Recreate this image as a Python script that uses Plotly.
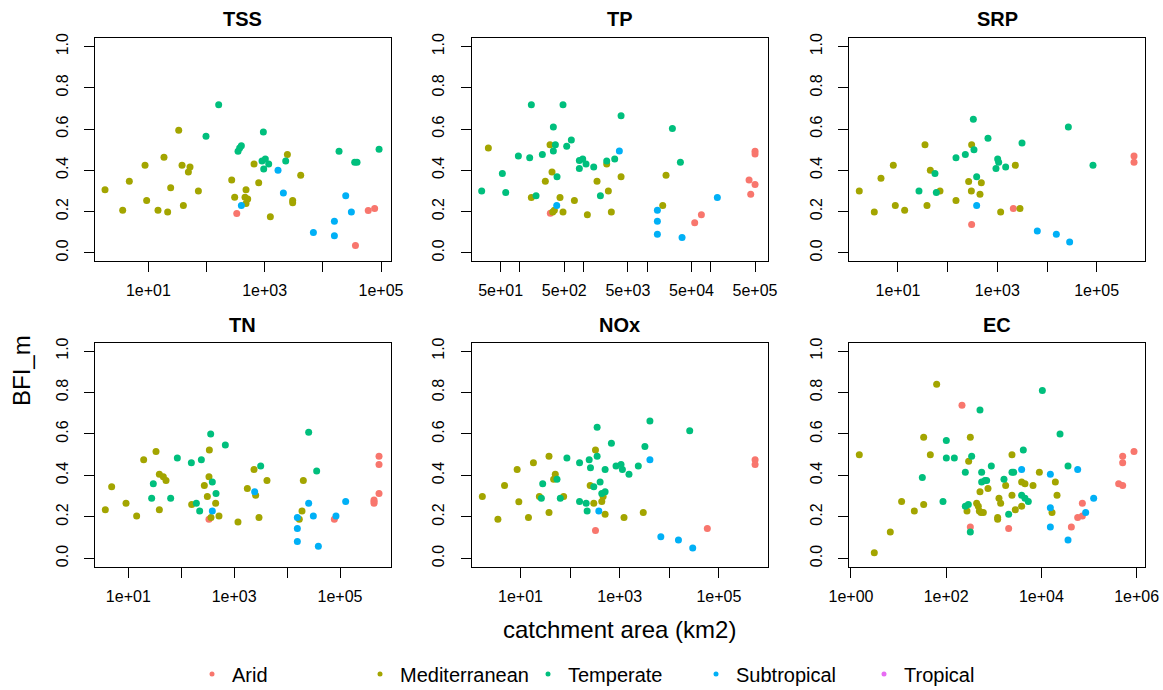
import numpy as np
import plotly.graph_objects as go

# ---------------- data (log10 catchment area km2, BFI_m) ----------------
climates = ["Arid", "Mediterranean", "Temperate", "Subtropical", "Tropical"]
colors = ["#F8766D", "#A3A500", "#00BF7D", "#00B0F6", "#E76BF3"]

# TSS
tss_arid_x = [2.52, 4.56, 4.78, 4.89]
tss_arid_y = [0.19, 0.035, 0.205, 0.215]
tss_med_x = [0.255, 0.559, 0.673, 0.943, 0.971, 1.166, 1.269, 1.332, 1.384, 1.522, 1.579, 1.602, 1.688, 1.716,
             1.860, 2.433, 2.484, 2.662, 2.679, 2.679, 2.708, 2.817, 2.897, 3.097, 3.390, 3.481, 3.481, 3.619]
tss_med_y = [0.306, 0.206, 0.347, 0.424, 0.253, 0.206, 0.463, 0.198, 0.315, 0.594, 0.424, 0.229, 0.392, 0.416,
             0.300, 0.353, 0.269, 0.269, 0.306, 0.239, 0.261, 0.431, 0.339, 0.174, 0.477, 0.253, 0.242, 0.376]
tss_temp_x = [1.991, 2.209, 2.542, 2.570, 2.599, 2.954, 2.977, 2.983, 3.011, 3.069, 3.361, 4.278, 4.547, 4.587, 4.966]
tss_temp_y = [0.565, 0.718, 0.492, 0.508, 0.519, 0.445, 0.585, 0.406, 0.455, 0.431, 0.445, 0.492, 0.439, 0.439, 0.502]
tss_sub_x = [2.599, 3.229, 3.321, 3.837, 4.198, 4.198, 4.393, 4.490]
tss_sub_y = [0.229, 0.400, 0.290, 0.098, 0.153, 0.082, 0.276, 0.198]

# TP
tp_arid_x = [2.480, 4.750, 4.855, 5.605, 5.631, 5.699, 5.699, 5.699]
tp_arid_y = [0.192, 0.145, 0.184, 0.353, 0.284, 0.331, 0.492, 0.479]
tp_med_x = [1.505, 2.181, 2.401, 2.475, 2.506, 2.517, 2.543, 2.632, 2.679, 2.858, 3.062, 3.214, 3.366, 3.392,
            3.439, 3.592, 4.247, 4.299]
tp_med_y = [0.508, 0.268, 0.347, 0.524, 0.392, 0.198, 0.206, 0.268, 0.198, 0.253, 0.184, 0.347, 0.431, 0.300,
            0.198, 0.369, 0.229, 0.376]
tp_temp_x = [1.400, 1.725, 1.778, 1.977, 2.155, 2.181, 2.255, 2.354, 2.527, 2.527, 2.559, 2.585, 2.679, 2.737,
             2.810, 2.936, 2.936, 2.989, 3.041, 3.162, 3.267, 3.366, 3.492, 3.592, 4.399, 4.525]
tp_temp_y = [0.300, 0.384, 0.292, 0.469, 0.461, 0.718, 0.276, 0.477, 0.610, 0.494, 0.524, 0.369, 0.718, 0.516,
             0.547, 0.447, 0.408, 0.455, 0.431, 0.416, 0.276, 0.445, 0.455, 0.665, 0.602, 0.439]
tp_sub_x = [2.580, 3.565, 4.163, 4.163, 4.163, 4.551, 5.106]
tp_sub_y = [0.229, 0.494, 0.206, 0.153, 0.090, 0.074, 0.268]

# SRP
srp_arid_x = [2.483, 3.322, 5.752, 5.752]
srp_arid_y = [0.137, 0.215, 0.469, 0.439]
srp_med_x = [0.221, 0.523, 0.658, 0.906, 0.946, 1.134, 1.544, 1.584, 1.651, 1.846, 2.168, 2.423, 2.483, 2.477,
             2.651, 2.678, 3.067, 3.362, 3.456]
srp_med_y = [0.300, 0.198, 0.361, 0.424, 0.229, 0.206, 0.524, 0.229, 0.400, 0.300, 0.253, 0.345, 0.524, 0.300,
             0.284, 0.339, 0.198, 0.424, 0.215]
srp_temp_x = [1.423, 1.745, 1.772, 2.168, 2.356, 2.517, 2.530, 2.584, 2.812, 2.973, 3.007, 3.027, 3.168, 3.497,
              4.430, 4.926]
srp_temp_y = [0.300, 0.384, 0.292, 0.461, 0.477, 0.648, 0.500, 0.369, 0.555, 0.408, 0.455, 0.439, 0.416, 0.532,
              0.610, 0.424]
srp_sub_x = [2.584, 3.805, 4.188, 4.456]
srp_sub_y = [0.229, 0.106, 0.090, 0.052]

# TN
tn_arid_x = [2.524, 4.893, 5.643, 5.643, 5.643, 5.737, 5.737, 5.737]
tn_arid_y = [0.189, 0.189, 0.274, 0.282, 0.266, 0.313, 0.453, 0.492]
tn_med_x = [0.565, 0.685, 0.956, 1.157, 1.290, 1.523, 1.586, 1.586, 1.661, 1.712, 2.197, 2.436, 2.493, 2.531,
            2.524, 2.562, 2.650, 2.713, 3.072, 3.249, 3.375, 3.406, 3.469, 3.620, 4.231, 4.307, 4.282]
tn_med_y = [0.235, 0.345, 0.266, 0.205, 0.476, 0.516, 0.235, 0.406, 0.394, 0.376, 0.260, 0.352, 0.298, 0.523,
            0.394, 0.197, 0.266, 0.205, 0.176, 0.337, 0.429, 0.305, 0.197, 0.376, 0.189, 0.376, 0.229]
tn_temp_x = [1.441, 1.472, 1.800, 1.926, 2.191, 2.285, 2.348, 2.380, 2.556, 2.587, 2.657, 2.833, 3.501, 4.408, 4.559]
tn_temp_y = [0.290, 0.360, 0.290, 0.484, 0.461, 0.266, 0.229, 0.476, 0.600, 0.368, 0.313, 0.547, 0.445, 0.608, 0.421]
tn_sub_x = [2.587, 3.387, 4.194, 4.194, 4.194, 4.408, 4.496, 4.591, 4.924, 5.107]
tn_sub_y = [0.229, 0.321, 0.197, 0.144, 0.081, 0.266, 0.205, 0.058, 0.205, 0.274]

# NOx
nox_arid_x = [2.512, 4.766, 5.729, 5.729]
nox_arid_y = [0.135, 0.144, 0.476, 0.453]
nox_med_x = [0.231, 0.545, 0.679, 0.933, 0.967, 1.161, 1.261, 1.381, 1.575, 1.575, 1.669, 1.702, 1.870, 2.405,
             2.478, 2.512, 2.639, 2.666, 2.706, 3.087, 3.475]
nox_med_y = [0.298, 0.189, 0.352, 0.429, 0.273, 0.197, 0.461, 0.298, 0.492, 0.221, 0.382, 0.406, 0.298, 0.352,
             0.266, 0.523, 0.274, 0.298, 0.213, 0.197, 0.221]
nox_temp_x = [1.421, 1.448, 1.736, 1.803, 1.936, 2.191, 2.191, 2.324, 2.344, 2.385, 2.411, 2.478, 2.545, 2.545,
              2.605, 2.639, 2.706, 2.706, 2.833, 2.926, 3.027, 3.054, 3.187, 3.375, 3.508, 3.609, 4.411]
nox_temp_y = [0.290, 0.360, 0.382, 0.290, 0.484, 0.461, 0.274, 0.266, 0.229, 0.476, 0.437, 0.345, 0.632, 0.492,
              0.368, 0.313, 0.321, 0.429, 0.555, 0.445, 0.453, 0.429, 0.406, 0.445, 0.539, 0.663, 0.616]
nox_sub_x = [2.579, 3.609, 3.829, 4.184, 4.472]
nox_sub_y = [0.229, 0.476, 0.105, 0.089, 0.050]

# EC
ec_arid_x = [2.332, 2.507, 3.312, 4.629, 4.762, 4.860, 4.860, 5.623, 5.707, 5.707, 5.707, 5.945]
ec_arid_y = [0.739, 0.152, 0.144, 0.152, 0.197, 0.205, 0.266, 0.360, 0.352, 0.492, 0.461, 0.515]
ec_med_x = [0.175, 0.490, 0.826, 1.064, 1.331, 1.527, 1.527, 1.667, 1.800, 2.437, 2.472, 2.507, 2.640, 2.675,
            2.710, 2.696, 2.731, 2.780, 2.878, 3.081, 3.081, 3.109, 3.144, 3.249, 3.382, 3.382, 3.452, 3.585,
            3.585, 3.655, 3.824, 3.957, 4.223, 4.293, 4.328]
ec_med_y = [0.500, 0.027, 0.127, 0.274, 0.229, 0.260, 0.584, 0.500, 0.840, 0.229, 0.468, 0.584, 0.266, 0.252,
            0.321, 0.229, 0.221, 0.221, 0.337, 0.197, 0.189, 0.290, 0.266, 0.352, 0.305, 0.500, 0.235, 0.368,
            0.252, 0.360, 0.352, 0.415, 0.221, 0.368, 0.305]
ec_temp_x = [1.499, 1.933, 2.003, 2.003, 2.171, 2.402, 2.402, 2.465, 2.507, 2.535, 2.710, 2.745, 2.745, 2.815,
             2.850, 2.948, 3.214, 3.312, 3.382, 3.417, 3.585, 3.620, 3.655, 3.725, 4.020, 4.391, 4.559]
ec_temp_y = [0.390, 0.274, 0.569, 0.484, 0.484, 0.415, 0.252, 0.260, 0.127, 0.492, 0.716, 0.415, 0.368, 0.376,
             0.376, 0.445, 0.382, 0.213, 0.415, 0.415, 0.305, 0.523, 0.290, 0.274, 0.810, 0.600, 0.445]
ec_sub_x = [3.585, 4.188, 4.188, 4.188, 4.559, 4.762, 4.930, 5.098]
ec_sub_y = [0.429, 0.406, 0.244, 0.152, 0.089, 0.429, 0.221, 0.290]

panel_names = ["TSS", "TP", "SRP", "TN", "NOx", "EC"]
panel_series = {
    "TSS": [(tss_arid_x, tss_arid_y), (tss_med_x, tss_med_y), (tss_temp_x, tss_temp_y), (tss_sub_x, tss_sub_y)],
    "TP": [(tp_arid_x, tp_arid_y), (tp_med_x, tp_med_y), (tp_temp_x, tp_temp_y), (tp_sub_x, tp_sub_y)],
    "SRP": [(srp_arid_x, srp_arid_y), (srp_med_x, srp_med_y), (srp_temp_x, srp_temp_y), (srp_sub_x, srp_sub_y)],
    "TN": [(tn_arid_x, tn_arid_y), (tn_med_x, tn_med_y), (tn_temp_x, tn_temp_y), (tn_sub_x, tn_sub_y)],
    "NOx": [(nox_arid_x, nox_arid_y), (nox_med_x, nox_med_y), (nox_temp_x, nox_temp_y), (nox_sub_x, nox_sub_y)],
    "EC": [(ec_arid_x, ec_arid_y), (ec_med_x, ec_med_y), (ec_temp_x, ec_temp_y), (ec_sub_x, ec_sub_y)],
}

# tick labels per panel
dec_vals = [1e1, 1e2, 1e3, 1e4, 1e5]
dec_text = ["1e+01", "", "1e+03", "", "1e+05"]
tp_vals = [5e1, 1e2, 5e2, 1e3, 5e3, 1e4, 5e4, 1e5, 5e5]
tp_text = ["5e+01", "", "5e+02", "", "5e+03", "", "5e+04", "", "5e+05"]
ec_vals = [1e0, 1e2, 1e4, 1e6]
ec_text = ["1e+00", "1e+02", "1e+04", "1e+06"]
y_vals = [0.0, 0.2, 0.4, 0.6, 0.8, 1.0]
y_text = ["0.0", "0.2", "0.4", "0.6", "0.8", "1.0"]

ticks = {"TSS": (dec_vals, dec_text), "TP": (tp_vals, tp_text), "SRP": (dec_vals, dec_text),
         "TN": (dec_vals, dec_text), "NOx": (dec_vals, dec_text), "EC": (ec_vals, ec_text)}
x_ranges = {"TSS": [0.083, 5.166], "TP": [1.243, 5.898], "SRP": [0.020, 5.973],
            "TN": [0.370, 5.958], "NOx": [0.017, 5.983], "EC": [-0.035, 6.176]}

# ---------------- layout geometry ----------------
W, H = 1163, 690
col_px = [(95, 390.7), (471.7, 767.7), (849.3, 1145)]
row_px = [(38.3, 261), (342.7, 566.7)]
FONT = "Liberation Sans, Arial, sans-serif"

fig = go.Figure()
layout = dict(template="none", width=W, height=H, margin=dict(l=0, r=0, t=0, b=0, autoexpand=False),
              paper_bgcolor="white", plot_bgcolor="white", showlegend=True,
              font=dict(family=FONT, color="black"))
annotations = []

for i, name in enumerate(panel_names):
    r, c = divmod(i, 3)
    xa = "xaxis" if i == 0 else f"xaxis{i+1}"
    ya = "yaxis" if i == 0 else f"yaxis{i+1}"
    xr = "x" if i == 0 else f"x{i+1}"
    yr = "y" if i == 0 else f"y{i+1}"
    x0, x1 = col_px[c]
    t0, t1 = row_px[r]
    for k, (xs, ys) in enumerate(panel_series[name]):
        fig.add_trace(go.Scatter(x=np.power(10.0, np.array(xs)), y=ys, mode="markers",
                                 marker=dict(color=colors[k], size=7, line=dict(width=0)),
                                 xaxis=xr, yaxis=yr, showlegend=False, name=climates[k],
                                 hoverinfo="x+y"))
    tv, tt = ticks[name]
    layout[xa] = dict(domain=[x0 / W, x1 / W], anchor=yr, type="log", range=x_ranges[name],
                      tickvals=tv, ticktext=tt, ticks="outside", ticklen=10, tickwidth=1,
                      tickcolor="black", showline=True, linecolor="black", linewidth=1, mirror=True,
                      showgrid=False, zeroline=False, automargin=False,
                      tickfont=dict(size=16, family=FONT, color="black"), ticklabelstandoff=5)
    layout[ya] = dict(domain=[1 - t1 / H, 1 - t0 / H], anchor=xr, range=[-0.04, 1.04],
                      tickvals=y_vals, ticktext=y_text, ticks="outside", ticklen=10, tickwidth=1,
                      tickcolor="black", showline=True, linecolor="black", linewidth=1, mirror=True,
                      showgrid=False, zeroline=False, tickangle=-90, automargin=False,
                      tickfont=dict(size=16, family=FONT, color="black"), ticklabelstandoff=10)
    annotations.append(dict(text=f"<b>{name}</b>", x=(x0 + x1) / 2 / W,
                            y=1 - ((19 if r == 0 else 325)) / H, xref="paper", yref="paper",
                            showarrow=False, xanchor="center", yanchor="middle",
                            font=dict(size=20, family=FONT, color="black")))

annotations.append(dict(text="BFI_m", x=21 / W, y=1 - 371 / H, xref="paper", yref="paper",
                        showarrow=False, textangle=-90, xanchor="center", yanchor="middle",
                        font=dict(size=24, family=FONT, color="black")))
annotations.append(dict(text="catchment area (km2)", x=619 / W, y=1 - 629 / H, xref="paper", yref="paper",
                        showarrow=False, xanchor="center", yanchor="middle",
                        font=dict(size=24, family=FONT, color="black")))

# legend-only traces
for k, cl in enumerate(climates):
    fig.add_trace(go.Scatter(x=[None], y=[None], mode="markers", name=cl,
                             marker=dict(color=colors[k], size=5), showlegend=True,
                             xaxis="x", yaxis="y"))

layout["legend"] = dict(orientation="h", x=192 / W, xanchor="left", y=1 - 674 / H, yanchor="middle",
                        font=dict(size=20, family=FONT, color="black"), entrywidth=123,
                        entrywidthmode="pixels", bgcolor="rgba(0,0,0,0)", traceorder="normal")
layout["annotations"] = annotations
fig.update_layout(**layout)
fig.write_html("out.html", config={"displayModeBar": False},
               post_script="document.body.style.margin='0px';document.body.style.overflow='hidden';")
